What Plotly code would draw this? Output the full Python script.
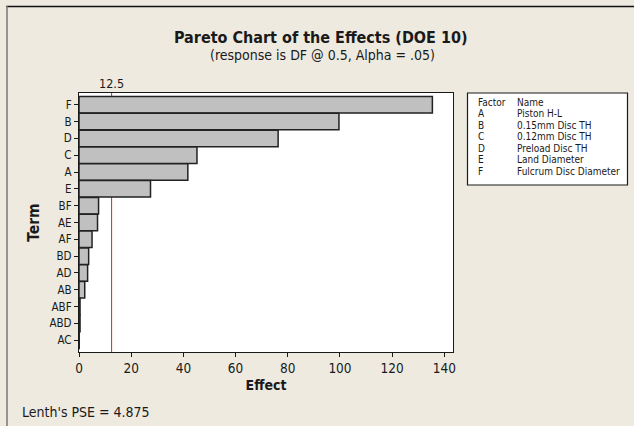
import plotly.graph_objects as go

# Standardized effects, largest first
terms = ["F", "B", "D", "C", "A", "E", "BF", "AE", "AF", "BD", "AD", "AB", "ABF", "ABD", "AC"]
effects = [135.4, 99.6, 76.3, 45.2, 41.7, 27.4, 7.5, 7.1, 5.0, 3.7, 3.3, 2.2, 0.4, 0.4, 0.1]

critical_value = 12.5
lenth_pse = 4.875

factor_codes = ["A", "B", "C", "D", "E", "F"]
factor_names = ["Piston H-L", "0.15mm Disc TH", "0.12mm Disc TH",
                "Preload Disc TH", "Land Diameter", "Fulcrum Disc Diameter"]

x_ticks = [0, 20, 40, 60, 80, 100, 120, 140]

FONT = "Tahoma, 'DejaVu Sans Condensed', 'Liberation Sans', sans-serif"
BG = "#EEEAE0"
INK = "#1a1a1a"

fig = go.Figure()

fig.add_trace(go.Bar(
    x=effects,
    y=terms,
    orientation="h",
    marker=dict(color="#C0C0C0", line=dict(color="#222222", width=1.5)),
    hoverinfo="x+y",
))

W, H = 634, 426
ml, mr, mt, mb = 79, 181, 93, 74

fig.update_layout(
    width=W, height=H,
    margin=dict(l=ml, r=mr, t=mt, b=mb, pad=0),
    paper_bgcolor=BG,
    plot_bgcolor="white",
    bargap=0.02,
    showlegend=False,
    font=dict(family=FONT, color=INK, size=11),
    xaxis=dict(
        range=[0, 143.3],
        tickvals=x_ticks,
        ticks="outside", ticklen=4, tickcolor=INK, tickwidth=1,
        tickfont=dict(size=13.5),
        showgrid=False, zeroline=False,
        showline=True, linecolor=INK, linewidth=1.2, mirror=True,
        title=dict(text="<b>Effect</b>", font=dict(size=14), standoff=4),
    ),
    yaxis=dict(
        type="category",
        categoryorder="array", categoryarray=terms,
        range=[14.7, -0.7],
        ticks="outside", ticklen=4, tickcolor=INK, tickwidth=1,
        tickfont=dict(size=11.5),
        showgrid=False, zeroline=False,
        showline=True, linecolor=INK, linewidth=1.2, mirror=True,
        title=dict(text="<b>Term</b>", font=dict(size=15.5), standoff=6),
    ),
)

# Reference line at the critical effect value
fig.add_shape(type="line", xref="x", yref="paper",
              x0=critical_value, x1=critical_value, y0=0, y1=1,
              line=dict(color="#E02020", width=1), layer="below")
fig.add_annotation(x=critical_value, xref="x", y=1, yref="paper",
                   yshift=10, text=str(critical_value), showarrow=False,
                   font=dict(size=12.5, color=INK), yanchor="middle")


def px_x(px):
    return (px - ml) / (W - ml - mr)


def px_y(py):
    return (H - mb - py) / (H - mt - mb)


# Titles
fig.add_annotation(x=px_x(321), y=px_y(37), xref="paper", yref="paper",
                   text="<b>Pareto Chart of the Effects (DOE 10)</b>",
                   showarrow=False, font=dict(size=16, color=INK),
                   xanchor="center", yanchor="middle")
fig.add_annotation(x=px_x(322), y=px_y(55), xref="paper", yref="paper",
                   text="(response is DF @ 0.5, Alpha = .05)",
                   showarrow=False, font=dict(size=14, color=INK),
                   xanchor="center", yanchor="middle")

# Lenth's pseudo standard error
fig.add_annotation(x=px_x(20), y=px_y(412), xref="paper", yref="paper",
                   text=f"Lenth's PSE = {lenth_pse}",
                   showarrow=False, font=dict(size=14, color=INK),
                   xanchor="left", yanchor="middle")

# Factor key box
fig.add_shape(type="rect", xref="paper", yref="paper",
              x0=px_x(467.5), x1=px_x(627.5), y0=px_y(185), y1=px_y(93),
              line=dict(color=INK, width=1.2), fillcolor="white", layer="above")
rows = [("Factor", "Name")] + list(zip(factor_codes, factor_names))
for i, (code, name) in enumerate(rows):
    yy = px_y(102 + i * 11.55)
    fig.add_annotation(x=px_x(476), y=yy, xref="paper", yref="paper",
                       text=code, showarrow=False, font=dict(size=10, color=INK),
                       xanchor="left", yanchor="middle")
    fig.add_annotation(x=px_x(515), y=yy, xref="paper", yref="paper",
                       text=name, showarrow=False, font=dict(size=10, color=INK),
                       xanchor="left", yanchor="middle")

# Outer frame edges
fig.add_shape(type="line", xref="paper", yref="paper",
              x0=px_x(6), x1=px_x(640), y0=px_y(6.5), y1=px_y(6.5),
              line=dict(color="#111111", width=1.5))
fig.add_shape(type="line", xref="paper", yref="paper",
              x0=px_x(7), x1=px_x(7), y0=px_y(6), y1=px_y(430),
              line=dict(color="#777777", width=1.5))

fig.write_html("out.html")
